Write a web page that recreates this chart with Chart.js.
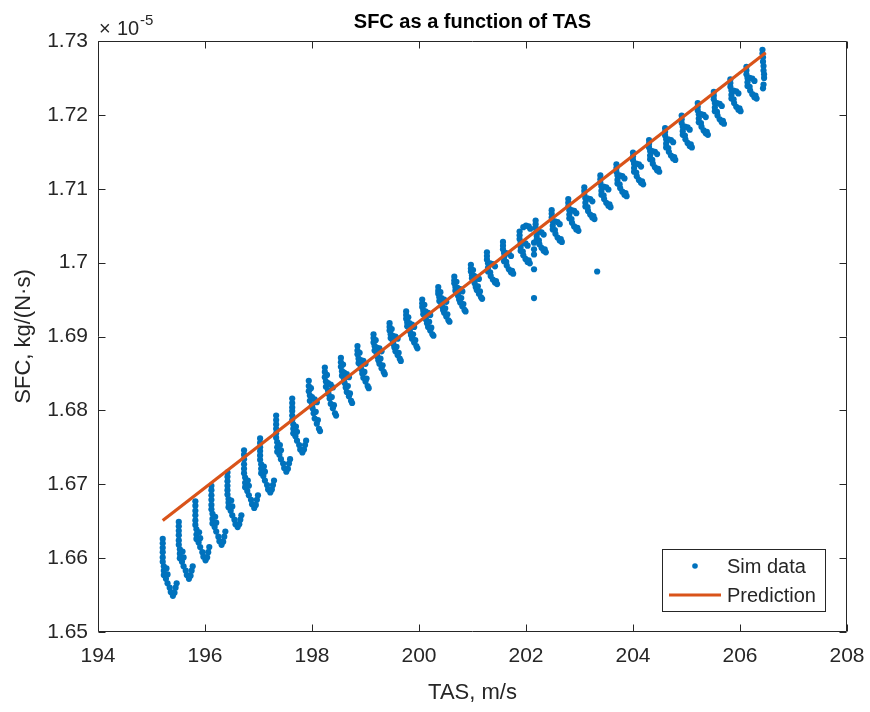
<!DOCTYPE html>
<html>
<head>
<meta charset="utf-8">
<script src="https://cdn.jsdelivr.net/npm/chart.js@4.4.1/dist/chart.umd.min.js"></script>
<style>
  html, body { margin: 0; padding: 0; background: #ffffff; }
  #wrap { width: 870px; height: 712px; }
</style>
</head>
<body>
<div id="wrap"><canvas id="c" width="870" height="712"></canvas></div>
<script>
// Axis ranges and tick labels
const xTicks = [194, 196, 198, 200, 202, 204, 206, 208];
const yTicks = [1.65, 1.66, 1.67, 1.68, 1.69, 1.70, 1.71, 1.72, 1.73];

const titleText = 'SFC as a function of TAS';
const xTitle = 'TAS, m/s';
const yTitle = 'SFC, kg/(N\u00b7s)';
const seriesNames = ['Sim data', 'Prediction'];

// Simulated SFC samples (SFC in units of 1e-5 kg/(N*s)), one line per speed step
const simTAS = [
  195.21,195.21,195.21,195.21,195.21,195.21,195.23,195.23,195.23,195.27,195.30,195.34,195.36,195.40,195.43,195.45,195.28,195.30,195.47,
  195.51,195.51,195.51,195.51,195.51,195.51,195.53,195.53,195.53,195.57,195.60,195.64,195.66,195.70,195.73,195.75,195.58,195.60,195.77,
  195.82,195.82,195.82,195.82,195.82,195.82,195.84,195.84,195.84,195.88,195.91,195.95,195.97,196.01,196.04,196.06,195.89,195.91,196.08,
  196.12,196.12,196.12,196.12,196.12,196.12,196.14,196.14,196.14,196.18,196.21,196.25,196.27,196.31,196.34,196.36,196.19,196.21,196.38,
  196.42,196.42,196.42,196.42,196.42,196.42,196.44,196.44,196.44,196.48,196.51,196.55,196.57,196.61,196.64,196.66,196.49,196.51,196.68,
  196.73,196.73,196.73,196.73,196.73,196.73,196.75,196.75,196.75,196.79,196.82,196.86,196.88,196.92,196.95,196.97,196.80,196.82,196.99,
  197.03,197.03,197.03,197.03,197.03,197.03,197.05,197.05,197.05,197.09,197.12,197.16,197.18,197.22,197.25,197.27,197.10,197.12,197.29,
  197.33,197.33,197.33,197.33,197.33,197.33,197.35,197.35,197.35,197.39,197.42,197.46,197.48,197.52,197.55,197.57,197.40,197.42,197.59,
  197.63,197.63,197.63,197.63,197.63,197.63,197.65,197.65,197.65,197.69,197.72,197.76,197.78,197.82,197.85,197.87,197.70,197.72,197.89,
  197.94,197.94,197.94,197.96,197.96,198.00,198.05,198.09,198.01,198.03,198.05,198.09,198.13,198.15,197.98,198.00,198.07,198.11,
  198.24,198.24,198.24,198.26,198.26,198.30,198.35,198.39,198.31,198.33,198.35,198.39,198.43,198.45,198.28,198.30,198.37,198.41,
  198.54,198.54,198.54,198.56,198.56,198.60,198.65,198.69,198.61,198.63,198.65,198.69,198.73,198.75,198.58,198.60,198.67,198.71,
  198.85,198.85,198.85,198.87,198.87,198.91,198.96,199.00,198.92,198.94,198.96,199.00,199.04,199.06,198.89,198.91,198.98,199.02,
  199.15,199.15,199.15,199.17,199.17,199.21,199.26,199.30,199.22,199.24,199.26,199.30,199.34,199.36,199.19,199.21,199.28,199.32,
  199.45,199.45,199.45,199.47,199.47,199.51,199.56,199.60,199.52,199.54,199.56,199.60,199.64,199.66,199.49,199.51,199.58,199.62,
  199.76,199.76,199.76,199.78,199.78,199.82,199.87,199.91,199.83,199.85,199.87,199.91,199.95,199.97,199.80,199.82,199.89,199.93,
  200.06,200.06,200.06,200.08,200.08,200.12,200.17,200.21,200.13,200.15,200.17,200.21,200.25,200.27,200.10,200.12,200.19,200.23,
  200.36,200.36,200.36,200.38,200.38,200.42,200.47,200.51,200.43,200.45,200.47,200.51,200.55,200.57,200.40,200.42,200.49,200.53,
  200.66,200.66,200.66,200.68,200.68,200.72,200.77,200.81,200.73,200.75,200.77,200.81,200.85,200.87,200.70,200.72,200.79,200.83,
  200.97,200.97,200.97,200.99,200.99,201.03,201.08,201.12,201.04,201.06,201.08,201.12,201.16,201.18,201.01,201.03,201.10,201.14,
  201.27,201.27,201.27,201.29,201.29,201.33,201.38,201.42,201.33,201.34,201.38,201.42,201.46,201.29,201.44,
  201.57,201.57,201.57,201.59,201.59,201.63,201.68,201.72,201.63,201.64,201.68,201.72,201.76,201.59,201.74,
  201.88,201.88,201.88,201.90,201.90,201.94,201.99,202.03,201.94,201.95,201.99,202.03,202.07,201.90,202.05,
  202.18,202.18,202.18,202.20,202.20,202.24,202.29,202.33,202.24,202.25,202.29,202.33,202.37,202.20,202.35,
  202.48,202.48,202.48,202.50,202.50,202.54,202.59,202.63,202.54,202.55,202.59,202.63,202.67,202.50,202.65,
  202.79,202.79,202.79,202.81,202.81,202.85,202.90,202.94,202.85,202.86,202.90,202.94,202.98,202.81,202.96,
  203.09,203.09,203.09,203.11,203.11,203.15,203.20,203.24,203.15,203.16,203.20,203.24,203.28,203.11,203.26,
  203.39,203.39,203.39,203.41,203.41,203.45,203.50,203.54,203.45,203.46,203.50,203.54,203.58,203.41,203.56,
  203.69,203.69,203.69,203.71,203.71,203.75,203.80,203.84,203.75,203.76,203.80,203.84,203.88,203.71,203.86,
  204.00,204.00,204.00,204.02,204.02,204.06,204.11,204.15,204.06,204.07,204.11,204.15,204.19,204.02,204.17,
  204.30,204.30,204.30,204.32,204.32,204.36,204.41,204.45,204.36,204.37,204.41,204.45,204.49,204.32,204.47,
  204.60,204.60,204.60,204.62,204.62,204.66,204.71,204.75,204.66,204.67,204.71,204.75,204.79,204.62,204.77,
  204.91,204.91,204.91,204.93,204.93,204.97,205.02,205.06,204.97,204.98,205.02,205.06,205.10,204.93,205.08,
  205.21,205.21,205.21,205.23,205.23,205.27,205.32,205.36,205.27,205.28,205.32,205.36,205.40,205.23,205.38,
  205.51,205.51,205.51,205.53,205.53,205.57,205.62,205.66,205.57,205.58,205.62,205.66,205.70,205.53,205.68,
  205.82,205.82,205.82,205.84,205.84,205.88,205.93,205.97,205.88,205.89,205.93,205.97,206.01,205.84,205.99,
  206.12,206.12,206.12,206.14,206.14,206.18,206.23,206.27,206.18,206.19,206.23,206.27,206.31,206.14,206.29,
  206.42,206.42,206.43,206.43,206.44,206.44,206.45,206.45,206.44,206.43,
  201.95,202.00,202.05,202.08,202.15,202.15,202.15,202.15,202.15,203.33
];
const simSFC = [
  1.6626,1.6620,1.6614,1.6608,1.6601,1.6595,1.6589,1.6583,1.6577,1.6572,1.6566,1.6560,1.6554,1.6549,1.6553,1.6560,1.6586,1.6578,1.6566,
  1.6649,1.6643,1.6637,1.6631,1.6624,1.6618,1.6612,1.6606,1.6600,1.6595,1.6589,1.6583,1.6577,1.6572,1.6576,1.6583,1.6609,1.6601,1.6589,
  1.6677,1.6671,1.6664,1.6658,1.6651,1.6645,1.6639,1.6632,1.6626,1.6621,1.6615,1.6608,1.6602,1.6597,1.6601,1.6608,1.6635,1.6627,1.6615,
  1.6698,1.6692,1.6685,1.6679,1.6672,1.6666,1.6660,1.6653,1.6647,1.6642,1.6636,1.6629,1.6623,1.6618,1.6622,1.6629,1.6656,1.6648,1.6636,
  1.6716,1.6710,1.6704,1.6698,1.6692,1.6686,1.6680,1.6675,1.6669,1.6664,1.6658,1.6652,1.6646,1.6642,1.6646,1.6652,1.6678,1.6670,1.6658,
  1.6746,1.6740,1.6734,1.6727,1.6721,1.6715,1.6709,1.6702,1.6696,1.6691,1.6685,1.6679,1.6673,1.6668,1.6672,1.6679,1.6705,1.6698,1.6685,
  1.6762,1.6756,1.6750,1.6745,1.6739,1.6733,1.6727,1.6721,1.6715,1.6711,1.6705,1.6699,1.6693,1.6689,1.6693,1.6699,1.6724,1.6717,1.6705,
  1.6793,1.6787,1.6781,1.6775,1.6769,1.6763,1.6757,1.6750,1.6744,1.6740,1.6734,1.6728,1.6722,1.6717,1.6721,1.6728,1.6753,1.6746,1.6734,
  1.6816,1.6810,1.6804,1.6799,1.6793,1.6787,1.6781,1.6775,1.6769,1.6765,1.6759,1.6753,1.6747,1.6743,1.6747,1.6753,1.6778,1.6771,1.6759,
  1.6840,1.6833,1.6826,1.6820,1.6813,1.6818,1.6815,1.6811,1.6803,1.6796,1.6789,1.6782,1.6775,1.6772,1.6830,1.6807,1.6798,1.6787,
  1.6858,1.6852,1.6845,1.6839,1.6832,1.6837,1.6835,1.6831,1.6822,1.6816,1.6809,1.6803,1.6796,1.6793,1.6848,1.6827,1.6818,1.6807,
  1.6871,1.6865,1.6859,1.6853,1.6847,1.6851,1.6849,1.6845,1.6837,1.6831,1.6825,1.6819,1.6813,1.6810,1.6862,1.6842,1.6833,1.6823,
  1.6887,1.6881,1.6876,1.6870,1.6864,1.6868,1.6867,1.6863,1.6856,1.6850,1.6844,1.6839,1.6833,1.6830,1.6878,1.6860,1.6852,1.6843,
  1.6903,1.6898,1.6892,1.6887,1.6881,1.6885,1.6884,1.6880,1.6873,1.6868,1.6863,1.6857,1.6852,1.6849,1.6895,1.6877,1.6870,1.6861,
  1.6918,1.6913,1.6908,1.6903,1.6898,1.6901,1.6900,1.6897,1.6890,1.6885,1.6880,1.6875,1.6870,1.6867,1.6910,1.6894,1.6886,1.6878,
  1.6934,1.6929,1.6924,1.6919,1.6914,1.6918,1.6916,1.6913,1.6907,1.6902,1.6897,1.6892,1.6887,1.6884,1.6926,1.6910,1.6903,1.6895,
  1.6950,1.6945,1.6940,1.6935,1.6930,1.6934,1.6932,1.6929,1.6923,1.6918,1.6913,1.6908,1.6903,1.6901,1.6943,1.6926,1.6920,1.6912,
  1.6967,1.6962,1.6958,1.6953,1.6948,1.6952,1.6950,1.6947,1.6941,1.6936,1.6932,1.6927,1.6922,1.6920,1.6960,1.6944,1.6938,1.6930,
  1.6981,1.6976,1.6972,1.6967,1.6962,1.6966,1.6964,1.6961,1.6955,1.6950,1.6946,1.6941,1.6936,1.6934,1.6974,1.6958,1.6952,1.6944,
  1.6997,1.6992,1.6988,1.6983,1.6979,1.6982,1.6980,1.6978,1.6972,1.6967,1.6963,1.6958,1.6953,1.6951,1.6990,1.6975,1.6968,1.6961,
  1.7014,1.7009,1.7004,1.6999,1.6993,1.6999,1.6998,1.6995,1.6987,1.6982,1.6977,1.6973,1.6971,1.6988,1.6975,
  1.7028,1.7023,1.7018,1.7013,1.7007,1.7013,1.7012,1.7009,1.7001,1.6996,1.6991,1.6987,1.6985,1.7002,1.6989,
  1.7042,1.7037,1.7032,1.7027,1.7021,1.7027,1.7026,1.7023,1.7015,1.7010,1.7005,1.7001,1.6999,1.7016,1.7003,
  1.7057,1.7052,1.7047,1.7042,1.7036,1.7042,1.7041,1.7038,1.7030,1.7025,1.7020,1.7016,1.7014,1.7031,1.7018,
  1.7071,1.7066,1.7061,1.7056,1.7050,1.7056,1.7055,1.7052,1.7044,1.7039,1.7034,1.7030,1.7028,1.7045,1.7032,
  1.7086,1.7081,1.7076,1.7071,1.7065,1.7071,1.7070,1.7067,1.7059,1.7054,1.7049,1.7045,1.7043,1.7060,1.7047,
  1.7102,1.7097,1.7092,1.7087,1.7081,1.7087,1.7086,1.7083,1.7075,1.7070,1.7065,1.7061,1.7059,1.7076,1.7063,
  1.7118,1.7113,1.7108,1.7103,1.7097,1.7103,1.7102,1.7099,1.7091,1.7086,1.7081,1.7077,1.7075,1.7092,1.7079,
  1.7133,1.7128,1.7123,1.7118,1.7112,1.7118,1.7117,1.7114,1.7106,1.7101,1.7096,1.7092,1.7090,1.7107,1.7094,
  1.7149,1.7144,1.7139,1.7134,1.7128,1.7134,1.7133,1.7130,1.7122,1.7117,1.7112,1.7108,1.7106,1.7123,1.7110,
  1.7166,1.7161,1.7156,1.7151,1.7145,1.7151,1.7150,1.7147,1.7139,1.7134,1.7129,1.7125,1.7123,1.7140,1.7127,
  1.7182,1.7177,1.7172,1.7167,1.7161,1.7167,1.7166,1.7163,1.7155,1.7150,1.7145,1.7141,1.7139,1.7156,1.7143,
  1.7199,1.7194,1.7189,1.7184,1.7178,1.7184,1.7183,1.7180,1.7172,1.7167,1.7162,1.7158,1.7156,1.7173,1.7160,
  1.7216,1.7211,1.7206,1.7201,1.7195,1.7201,1.7200,1.7197,1.7189,1.7184,1.7179,1.7175,1.7173,1.7190,1.7177,
  1.7231,1.7226,1.7221,1.7216,1.7210,1.7216,1.7215,1.7212,1.7204,1.7199,1.7194,1.7190,1.7188,1.7205,1.7192,
  1.7248,1.7243,1.7238,1.7233,1.7227,1.7233,1.7232,1.7229,1.7221,1.7216,1.7211,1.7207,1.7205,1.7222,1.7209,
  1.7265,1.7260,1.7255,1.7250,1.7244,1.7250,1.7249,1.7246,1.7238,1.7233,1.7228,1.7224,1.7222,1.7239,1.7226,
  1.7288,1.7283,1.7278,1.7272,1.7266,1.7260,1.7255,1.7250,1.7241,1.7236,
  1.7048,1.7050,1.7049,1.7046,1.7027,1.7018,1.7011,1.6991,1.6952,1.6988
];

// Linear fit through the samples
const predTAS = [195.21, 206.48];
const predSFC = [1.6651, 1.7284];

const BLUE = '#0072BD';
const ORANGE = '#D95319';
const AXIS = '#262626';
const FONT = '"Liberation Sans", Arial, Helvetica, sans-serif';

const simPoints = simTAS.map((x, i) => ({ x: x, y: simSFC[i] }));
const predPoints = predTAS.map((x, i) => ({ x: x, y: predSFC[i] }));

// Axes box with inward ticks on all four sides, titles, exponent and legend
const decorations = {
  id: 'decorations',
  afterDraw(chart) {
    const ctx = chart.ctx;
    const a = chart.chartArea;
    const sx = chart.scales.x, sy = chart.scales.y;
    const L = a.left + 0.5, R = a.right - 0.5, T = a.top + 0.5, B = a.bottom - 0.5;
    const tickLen = 7;
    ctx.save();
    ctx.strokeStyle = AXIS;
    ctx.lineWidth = 1;
    ctx.beginPath();
    ctx.rect(L, T, R - L, B - T);
    xTicks.forEach(v => {
      const px = Math.round(sx.getPixelForValue(v)) + 0.5;
      ctx.moveTo(px, B); ctx.lineTo(px, B - tickLen);
      ctx.moveTo(px, T); ctx.lineTo(px, T + tickLen);
    });
    yTicks.forEach(v => {
      const py = Math.round(sy.getPixelForValue(v)) + 0.5;
      ctx.moveTo(L, py); ctx.lineTo(L + tickLen, py);
      ctx.moveTo(R, py); ctx.lineTo(R - tickLen, py);
    });
    ctx.stroke();

    // Title
    ctx.fillStyle = '#000000';
    ctx.font = 'bold 20px ' + FONT;
    ctx.textAlign = 'center';
    ctx.textBaseline = 'alphabetic';
    ctx.fillText(titleText, (a.left + a.right) / 2, 28);

    // Axis titles
    ctx.fillStyle = AXIS;
    ctx.font = '22px ' + FONT;
    ctx.fillText(xTitle, (a.left + a.right) / 2, 699);
    ctx.save();
    ctx.translate(30, (a.top + a.bottom) / 2);
    ctx.rotate(-Math.PI / 2);
    ctx.fillText(yTitle, 0, 0);
    ctx.restore();

    // Exponent of the y axis
    ctx.textAlign = 'left';
    ctx.font = '20px ' + FONT;
    ctx.fillText('\u00d7', 99, 35);
    ctx.fillText('10', 117, 35);
    ctx.font = '15px ' + FONT;
    ctx.fillText('-5', 140, 25);

    // Legend
    const bx = 662.5, by = 549.5, bw = 163, bh = 62;
    ctx.fillStyle = '#ffffff';
    ctx.fillRect(bx, by, bw, bh);
    ctx.strokeStyle = AXIS;
    ctx.lineWidth = 1;
    ctx.strokeRect(bx, by, bw, bh);
    ctx.fillStyle = BLUE;
    ctx.beginPath();
    ctx.arc(695, 566, 2.8, 0, Math.PI * 2);
    ctx.fill();
    ctx.strokeStyle = ORANGE;
    ctx.lineWidth = 3;
    ctx.beginPath();
    ctx.moveTo(669, 595); ctx.lineTo(721, 595);
    ctx.stroke();
    ctx.fillStyle = AXIS;
    ctx.font = '20px ' + FONT;
    ctx.textBaseline = 'middle';
    ctx.fillText(seriesNames[0], 727, 567);
    ctx.fillText(seriesNames[1], 727, 596);
    ctx.restore();
  }
};

new Chart(document.getElementById('c'), {
  type: 'scatter',
  data: {
    datasets: [
      {
        label: seriesNames[1],
        data: predPoints,
        showLine: true,
        borderColor: ORANGE,
        borderWidth: 3.2,
        pointRadius: 0,
        fill: false,
        order: 0
      },
      {
        label: seriesNames[0],
        data: simPoints,
        showLine: false,
        pointRadius: 3.1,
        pointBorderWidth: 0,
        pointBackgroundColor: BLUE,
        pointBorderColor: BLUE,
        order: 1
      }
    ]
  },
  options: {
    responsive: false,
    animation: false,
    devicePixelRatio: 1,
    layout: { padding: { top: 41, right: 23, left: 0, bottom: 0 } },
    plugins: { legend: { display: false }, tooltip: { enabled: false }, title: { display: false } },
    scales: {
      x: {
        type: 'linear',
        min: xTicks[0],
        max: xTicks[xTicks.length - 1],
        afterBuildTicks(s) { s.ticks = xTicks.map(v => ({ value: v })); },
        ticks: { color: AXIS, font: { family: FONT, size: 21 }, padding: 12, maxRotation: 0, autoSkip: false },
        grid: { display: false, drawTicks: false },
        border: { display: false },
        afterFit(s) { s.height = 80; s.paddingLeft = 0; s.paddingRight = 0; }
      },
      y: {
        type: 'linear',
        min: yTicks[0],
        max: yTicks[yTicks.length - 1],
        afterBuildTicks(s) { s.ticks = yTicks.map(v => ({ value: v })); },
        ticks: {
          color: AXIS,
          font: { family: FONT, size: 21 },
          padding: 10,
          autoSkip: false,
          callback: v => String(Number(v.toFixed(2)))
        },
        grid: { display: false, drawTicks: false },
        border: { display: false },
        afterFit(s) { s.width = 98; s.paddingTop = 0; s.paddingBottom = 0; }
      }
    }
  },
  plugins: [decorations]
});
</script>
</body>
</html>
